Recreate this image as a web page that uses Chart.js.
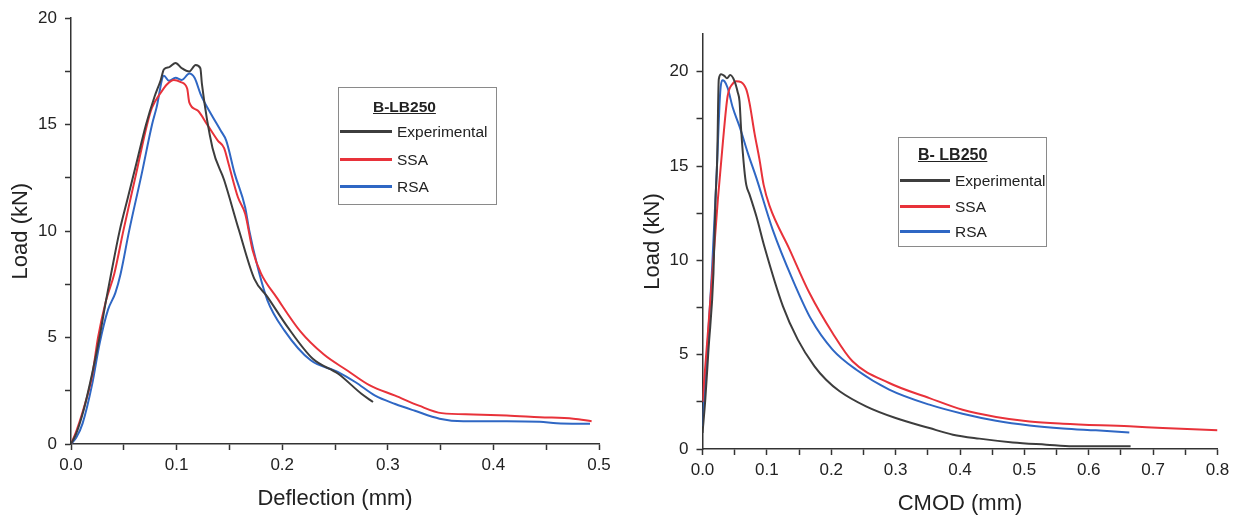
<!DOCTYPE html>
<html lang="en">
<head>
<meta charset="UTF-8">
<title>B-LB250 — Load vs Deflection / CMOD</title>
<script src="https://cdn.jsdelivr.net/npm/chart.js"></script>
<style>
  html, body { margin: 0; padding: 0; background: #fff; }
  body { width: 1241px; height: 519px; position: relative; overflow: hidden;
         font-family: "Liberation Sans", Arial, sans-serif; color: #222; }
  canvas { position: absolute; top: 0; }
  #deflChart { left: 0; }
  #cmodChart { left: 620px; }
  .lgBox { position: absolute; border: 1.5px solid #8a8a8a; box-sizing: border-box; }
  .lgTitle { position: absolute; font-weight: bold; text-decoration: underline; white-space: nowrap; line-height: 20px; }
  .lgText { position: absolute; white-space: nowrap; line-height: 20px; }
  .lgLine { position: absolute; height: 2.5px; }
</style>
</head>
<body>
<canvas id="deflChart" width="620" height="519"></canvas>
<canvas id="cmodChart" width="621" height="519"></canvas>

<script>
  // ---------- series ----------
  const seriesNames = ['Experimental', 'SSA', 'RSA'];
  const seriesColors = ['#3d3d3d', '#e8323a', '#2f67c4'];

  // Load vs deflection (left)
  const deflExpX = [0, 0.005, 0.012, 0.02, 0.027, 0.033, 0.038, 0.046, 0.054, 0.062, 0.071, 0.079, 0.085, 0.088, 0.093, 0.099, 0.105, 0.112, 0.118, 0.1225, 0.124, 0.134, 0.145, 0.159, 0.1735, 0.186, 0.205, 0.229, 0.253, 0.275, 0.286];
  const deflExpY = [0, 0.5, 1.6, 3.3, 5.0, 6.7, 8.0, 10.0, 11.6, 13.2, 15.0, 16.3, 17.1, 17.6, 17.7, 17.9, 17.65, 17.5, 17.8, 17.65, 16.9, 13.9, 12.4, 10.05, 7.77, 6.91, 5.5, 4.0, 3.3, 2.36, 1.97];

  const deflSsaX = [0, 0.005, 0.011, 0.02, 0.0256, 0.033, 0.041, 0.0495, 0.0617, 0.072, 0.0767, 0.085, 0.091, 0.0974, 0.104, 0.11, 0.112, 0.12, 0.129, 0.139, 0.145, 0.149, 0.158, 0.165, 0.172, 0.18, 0.1945, 0.217, 0.2395, 0.262, 0.283, 0.307, 0.3295, 0.351, 0.381, 0.4126, 0.444, 0.4757, 0.493];
  const deflSsaY = [0, 0.6, 1.5, 3.2, 5.0, 6.7, 8.0, 10.0, 12.7, 15.0, 15.8, 16.5, 16.9, 17.1, 17.0, 16.7, 16.05, 15.66, 15.0, 14.25, 13.9, 13.2, 11.6, 10.8, 9.1, 8.0, 6.9, 5.3, 4.2, 3.44, 2.75, 2.27, 1.8, 1.45, 1.39, 1.34, 1.26, 1.19, 1.07];

  const deflRsaX = [0, 0.005, 0.011, 0.02, 0.027, 0.035, 0.042, 0.047, 0.055, 0.067, 0.0767, 0.081, 0.088, 0.0927, 0.099, 0.105, 0.112, 0.117, 0.123, 0.1326, 0.142, 0.147, 0.155, 0.165, 0.1687, 0.1767, 0.186, 0.202, 0.227, 0.253, 0.2695, 0.288, 0.307, 0.3257, 0.349, 0.3715, 0.4126, 0.444, 0.46, 0.4915];
  const deflRsaY = [0, 0.3, 0.97, 2.8, 4.7, 6.3, 7.1, 8.0, 10.0, 12.7, 15.0, 15.8, 17.3, 17.06, 17.2, 17.1, 17.4, 17.2, 16.4, 15.5, 14.7, 14.25, 12.7, 11.1, 10.05, 8.32, 6.75, 5.34, 3.93, 3.38, 2.9, 2.27, 1.88, 1.56, 1.19, 1.07, 1.07, 1.04, 0.98, 0.95];

  // Load vs CMOD (right)
  const cmodExpX = [0, 0.0043, 0.0093, 0.017, 0.0202, 0.0228, 0.0253, 0.029, 0.034, 0.038, 0.043, 0.0497, 0.0548, 0.0575, 0.06, 0.065, 0.068, 0.073, 0.084, 0.096, 0.125, 0.148, 0.174, 0.192, 0.213, 0.254, 0.3, 0.3525, 0.389, 0.43, 0.482, 0.534, 0.575, 0.665];
  const cmodExpY = [0.85, 2.6, 5.26, 9.3, 13.2, 15.35, 19.6, 19.87, 19.78, 19.65, 19.82, 19.5, 18.9, 18.44, 16.94, 14.8, 14.0, 13.5, 12.3, 10.75, 7.56, 5.8, 4.38, 3.67, 3.06, 2.26, 1.64, 1.11, 0.76, 0.55, 0.35, 0.23, 0.14, 0.14];

  const cmodSsaX = [0, 0.008, 0.016, 0.0238, 0.0315, 0.039, 0.047, 0.052, 0.06, 0.068, 0.073, 0.0807, 0.0885, 0.095, 0.104, 0.135, 0.166, 0.202, 0.233, 0.29, 0.3525, 0.404, 0.456, 0.508, 0.56, 0.663, 0.715, 0.8];
  const cmodSsaY = [2.5, 6.0, 9.6, 13.2, 16.2, 18.7, 19.37, 19.5, 19.45, 19.06, 18.35, 16.76, 15.35, 14.0, 12.9, 10.6, 8.28, 6.15, 4.65, 3.5, 2.7, 2.08, 1.7, 1.46, 1.34, 1.2, 1.11, 0.99];

  const cmodRsaX = [0, 0.0067, 0.0145, 0.022, 0.0275, 0.0306, 0.034, 0.039, 0.047, 0.0575, 0.0703, 0.0834, 0.109, 0.14, 0.169, 0.202, 0.239, 0.29, 0.3525, 0.404, 0.456, 0.508, 0.56, 0.611, 0.663];
  const cmodRsaY = [1.2, 4.9, 9.3, 14.6, 18.9, 19.55, 19.5, 19.15, 18.1, 17.1, 15.7, 14.4, 11.63, 8.98, 6.86, 5.27, 4.2, 3.15, 2.35, 1.87, 1.5, 1.25, 1.09, 0.99, 0.88];

  // axis ranges / labels
  const deflXMax = 0.5, deflYMax = 20;
  const cmodXMax = 0.8, cmodYMax = 22;
  const deflXTitle = 'Deflection (mm)';
  const cmodXTitle = 'CMOD (mm)';
  const yTitle = 'Load (kN)';
  const deflLegendTitle = 'B-LB250';
  const cmodLegendTitle = 'B- LB250';

  const FONT = '"Liberation Sans", Arial, sans-serif';
  const INK = '#222';
  const AXIS = '#333';

  function pts(xs, ys) {
    return xs.map((x, i) => ({ x: x, y: ys[i] }));
  }

  function datasets(list) {
    return list.map((d, i) => ({
      label: seriesNames[i],
      data: pts(d[0], d[1]),
      borderColor: seriesColors[i],
      backgroundColor: seriesColors[i],
      borderWidth: 2,
      pointRadius: 0,
      showLine: true,
      fill: false,
      cubicInterpolationMode: 'monotone'
    }));
  }

  function chartOptions(c) {
    return {
      responsive: false,
      animation: false,
      devicePixelRatio: 1,
      layout: { padding: { top: c.top, right: c.right, left: 0, bottom: 0 } },
      plugins: { legend: { display: false }, tooltip: { enabled: false } },
      scales: {
        x: {
          type: 'linear', min: 0, max: c.xMax,
          border: { color: AXIS, width: 1.5 },
          grid: { drawOnChartArea: false, drawTicks: true, tickLength: 6, tickColor: AXIS, tickWidth: 1.5 },
          ticks: {
            stepSize: 0.05, autoSkip: false, maxRotation: 0, padding: 5,
            color: INK, font: { family: FONT, size: 17 },
            callback: v => (Math.round(v * 100) % 10 === 0 ? v.toFixed(1) : '')
          },
          title: { display: true, text: c.xTitle, color: INK, font: { family: FONT, size: 22 },
                   padding: { top: 0, bottom: c.xTitlePad } },
          afterFit: s => { s.height = c.xAxisH; }
        },
        y: {
          type: 'linear', min: 0, max: c.yMax,
          border: { color: AXIS, width: 1.5 },
          grid: { drawOnChartArea: false, drawTicks: true, tickLength: 6, tickColor: AXIS, tickWidth: 1.5 },
          ticks: {
            stepSize: 2.5, autoSkip: false, padding: 8,
            color: INK, font: { family: FONT, size: 17 },
            callback: v => (v % 5 === 0 ? v : '')
          },
          afterBuildTicks: s => { s.ticks = s.ticks.filter(t => t.value <= 20.001); },
          title: { display: true, text: yTitle, color: INK, font: { family: FONT, size: 22 },
                   padding: { top: c.yTitlePad, bottom: 0 } },
          afterFit: s => { s.width = c.yAxisW; }
        }
      }
    };
  }

  new Chart(document.getElementById('deflChart'), {
    type: 'scatter',
    data: { datasets: datasets([[deflExpX, deflExpY], [deflSsaX, deflSsaY], [deflRsaX, deflRsaY]]) },
    options: chartOptions({ top: 17, right: 21, xMax: deflXMax, yMax: deflYMax, xTitle: deflXTitle,
                            xTitlePad: 7, xAxisH: 75, yTitlePad: 8, yAxisW: 71 })
  });

  new Chart(document.getElementById('cmodChart'), {
    type: 'scatter',
    data: { datasets: datasets([[cmodExpX, cmodExpY], [cmodSsaX, cmodSsaY], [cmodRsaX, cmodRsaY]]) },
    options: chartOptions({ top: 34, right: 23.5, xMax: cmodXMax, yMax: cmodYMax, xTitle: cmodXTitle,
                            xTitlePad: 2, xAxisH: 70, yTitlePad: 20, yAxisW: 82.5 })
  });

  // ---------- legends (boxed, underlined title) ----------
  function addLegend(g) {
    const box = document.createElement('div');
    box.className = 'lgBox';
    Object.assign(box.style, { left: g.left + 'px', top: g.top + 'px', width: g.w + 'px', height: g.h + 'px' });
    document.body.appendChild(box);

    const t = document.createElement('div');
    t.className = 'lgTitle';
    t.textContent = g.title;
    Object.assign(t.style, { left: g.titleX + 'px', top: (g.titleY - 15) + 'px', fontSize: g.titleSize + 'px' });
    document.body.appendChild(t);

    seriesNames.forEach((name, i) => {
      const cy = g.rowY[i];
      const ln = document.createElement('div');
      ln.className = 'lgLine';
      Object.assign(ln.style, { left: g.lineX + 'px', top: (cy - 1.25) + 'px', width: g.lineW + 'px', background: seriesColors[i] });
      document.body.appendChild(ln);

      const tx = document.createElement('div');
      tx.className = 'lgText';
      tx.textContent = name;
      Object.assign(tx.style, { left: g.textX + 'px', top: (cy - 9.6) + 'px', fontSize: '15.5px' });
      document.body.appendChild(tx);
    });
  }

  addLegend({ left: 338, top: 87, w: 159, h: 118, title: deflLegendTitle, titleX: 373, titleY: 111.7, titleSize: 15.5,
              lineX: 340, lineW: 52, textX: 397, rowY: [131.7, 159.3, 186.7] });
  addLegend({ left: 898, top: 137, w: 149, h: 110, title: cmodLegendTitle, titleX: 918, titleY: 160, titleSize: 16,
              lineX: 900, lineW: 50, textX: 955, rowY: [180.7, 206.7, 231.7] });
</script>
</body>
</html>
